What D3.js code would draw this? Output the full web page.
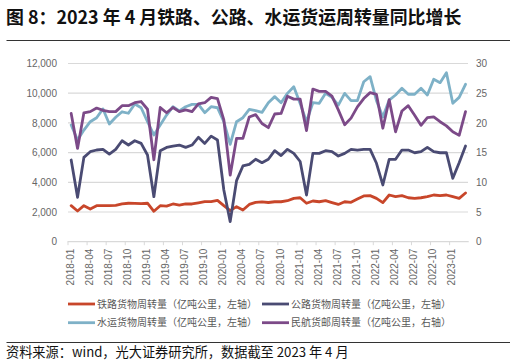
<!DOCTYPE html>
<html><head><meta charset="utf-8">
<script src="https://cdn.jsdelivr.net/npm/d3@7"></script>
<style>body{margin:0;background:#fff}svg{display:block}</style>
</head><body><svg id="c" width="516" height="364"></svg>
<script>
const months = [
"2018-01","2018-02","2018-03","2018-04","2018-05","2018-06","2018-07","2018-08","2018-09","2018-10","2018-11","2018-12",
"2019-01","2019-02","2019-03","2019-04","2019-05","2019-06","2019-07","2019-08","2019-09","2019-10","2019-11","2019-12",
"2020-01","2020-02","2020-03","2020-04","2020-05","2020-06","2020-07","2020-08","2020-09","2020-10","2020-11","2020-12",
"2021-01","2021-02","2021-03","2021-04","2021-05","2021-06","2021-07","2021-08","2021-09","2021-10","2021-11","2021-12",
"2022-01","2022-02","2022-03","2022-04","2022-05","2022-06","2022-07","2022-08","2022-09","2022-10","2022-11","2022-12",
"2023-01","2023-02","2023-03"];
const tickLabels = ["2018-01","2018-04","2018-07","2018-10","2019-01","2019-04","2019-07","2019-10","2020-01","2020-04","2020-07","2020-10","2021-01","2021-04","2021-07","2021-10","2022-01","2022-04","2022-07","2022-10","2023-01"];
const leftTicks = [0,2000,4000,6000,8000,10000,12000];
const rightTicks = [0,5,10,15,20,25,30];

const railway = [2425,2070,2425,2200,2425,2425,2430,2450,2540,2590,2580,2560,2590,2050,2425,
 2400,2540,2470,2540,2540,2620,2700,2700,2780,2425,2090,2360,2130,2510,2650,2680,2640,
 2690,2690,2760,2920,2960,2590,2740,2690,2760,2630,2510,2690,2650,2870,
 3080,3100,2920,2630,3145,3030,3100,2960,2920,2960,3030,3145,3100,3145,3030,2920,3280];
const highway = [5500,2990,5680,6060,6175,6220,5900,6220,6800,6510,6800,6620,5840,3030,6130,
 6350,6440,6510,6350,6510,7030,6620,7110,6850,3480,1350,4110,5100,5210,5550,5320,5550,
 6130,5800,6220,5950,5400,3140,5950,5950,6130,6060,5770,5950,6220,6170,
 6220,6220,5280,3820,5550,5550,6170,6170,5990,6060,6350,6060,5990,5990,4270,5320,6440];
const waterway = [7860,6850,7520,8080,8350,8940,7930,8380,8750,8650,9270,9020,8080,7190,7860,
 8530,9090,8800,9090,9250,9250,8690,9090,9020,8080,6560,8080,8350,8910,8820,8710,9360,
 9770,9360,9990,10440,9300,8080,9360,9320,9990,9720,9200,9990,9500,9500,
 10770,11110,9500,8400,9540,9880,10330,9930,9930,10330,9880,10940,10710,11380,9320,9720,10600];
const aviation = [21.6,15.7,21.7,21.9,22.5,22.1,21.9,21.9,22.9,22.9,23.4,23.6,22.3,13.8,22.6,
 21.7,22.6,21.9,22.2,21.9,23.2,23.4,24.3,24.1,20.5,11.2,17.4,17.4,21.0,21.4,19.9,19.2,
 21.5,21.6,24.5,24.0,24.0,18.7,25.7,25.3,25.3,24.5,22.2,19.7,20.8,22.7,
 24.1,25.1,24.8,19.1,23.9,18.5,22.0,22.9,21.3,19.6,20.9,21.0,20.2,19.5,18.5,17.9,21.9];

const seriesNames = ["铁路货物周转量（亿吨公里，左轴）","公路货物周转量（亿吨公里，左轴）","水运货物周转量（亿吨公里，左轴）","民航货邮周转量（亿吨公里，右轴）"];
const colors = ["#c8462a","#4a4b73","#7eb1c7","#7c4a88"];

const svg = d3.select("#c");
const cjk = "'Noto Sans CJK SC','Noto Sans',sans-serif";
const num = "'Liberation Sans',Arial,sans-serif";

// title
svg.append("text").attr("x",6).attr("y",24).attr("font-family",cjk).attr("font-weight","bold")
  .attr("font-size",17.9).attr("fill","#111").text("图 8：2023 年 4 月铁路、公路、水运货运周转量同比增长");
svg.append("line").attr("x1",6.5).attr("x2",510).attr("y1",40.5).attr("y2",40.5).attr("stroke","#333").attr("stroke-width",1);

const x = d3.scaleBand().domain(months).range([68,468.7]).paddingInner(0).paddingOuter(0);
const y = d3.scaleLinear().domain([0,12000]).range([241.7,63.5]);
const y2 = d3.scaleLinear().domain([0,30]).range([241.7,63.5]);
const bw = x.bandwidth();

// gridlines
svg.append("g").selectAll("line").data(leftTicks.slice(1)).join("line")
  .attr("x1",68).attr("x2",468).attr("y1",d=>y(d)).attr("y2",d=>y(d))
  .attr("stroke","#d9d9d9").attr("stroke-width",1.2);

// left axis
const ga = svg.append("g").attr("transform","translate(57,0)")
  .call(d3.axisLeft(y).tickValues(leftTicks).tickSize(0).tickPadding(0).tickFormat(d3.format(",")));
ga.select(".domain").remove();
ga.selectAll("text").attr("font-family",num).attr("font-size",10).attr("fill","#666");

// right axis
const gr = svg.append("g").attr("transform","translate(476,0)")
  .call(d3.axisRight(y2).tickValues(rightTicks).tickSize(0).tickPadding(0));
gr.select(".domain").remove();
gr.selectAll("text").attr("font-family",num).attr("font-size",10).attr("fill","#666");

// bottom axis
const gb = svg.append("g").attr("transform","translate(0,241.7)");
gb.append("line").attr("x1",67.5).attr("x2",468.7).attr("stroke","#d9d9d9").attr("stroke-width",1.2);
gb.selectAll("line.t").data(tickLabels).join("line").attr("class","t")
  .attr("x1",d=>x(d)).attr("x2",d=>x(d)).attr("y1",0).attr("y2",3.5).attr("stroke","#d9d9d9").attr("stroke-width",1);
gb.selectAll("text").data(tickLabels).join("text")
  .attr("transform",d=>`translate(${x(d)+bw/2-1},7) rotate(-90)`)
  .attr("text-anchor","end").attr("dy","0.35em")
  .attr("font-family",num).attr("font-size",10).attr("fill","#666").text(d=>d);

// lines
const data = [railway,highway,waterway,aviation];
const scales = [y,y,y,y2];
[0,1,2,3].forEach(k=>{
  const line = d3.line().x((d,i)=>x(months[i])+bw/2).y(d=>scales[k](d));
  svg.append("path").datum(data[k]).attr("d",line).attr("fill","none")
    .attr("stroke",colors[k]).attr("stroke-width",2.8).attr("stroke-linejoin","round").attr("stroke-linecap","round");
});

// legend
const legPos = [[68,304],[262,304],[68,322.7],[262,322.7]];
seriesNames.forEach((n,k)=>{
  const [lx,ly] = legPos[k];
  svg.append("line").attr("x1",lx).attr("x2",lx+27).attr("y1",ly).attr("y2",ly)
    .attr("stroke",colors[k]).attr("stroke-width",2.8);
  svg.append("text").attr("x",lx+29).attr("y",ly).attr("dy","0.35em")
    .attr("font-family",cjk).attr("font-size",10).attr("fill","#595959").text(n);
});

// bottom rule & source
svg.append("line").attr("x1",6.5).attr("x2",510).attr("y1",342.5).attr("y2",342.5).attr("stroke","#333").attr("stroke-width",1);
svg.append("text").attr("x",6).attr("y",356.5).attr("font-family",cjk)
  .attr("font-size",13.2).attr("fill","#111").text("资料来源：wind，光大证券研究所，数据截至 2023 年 4 月");
</script></body></html>
